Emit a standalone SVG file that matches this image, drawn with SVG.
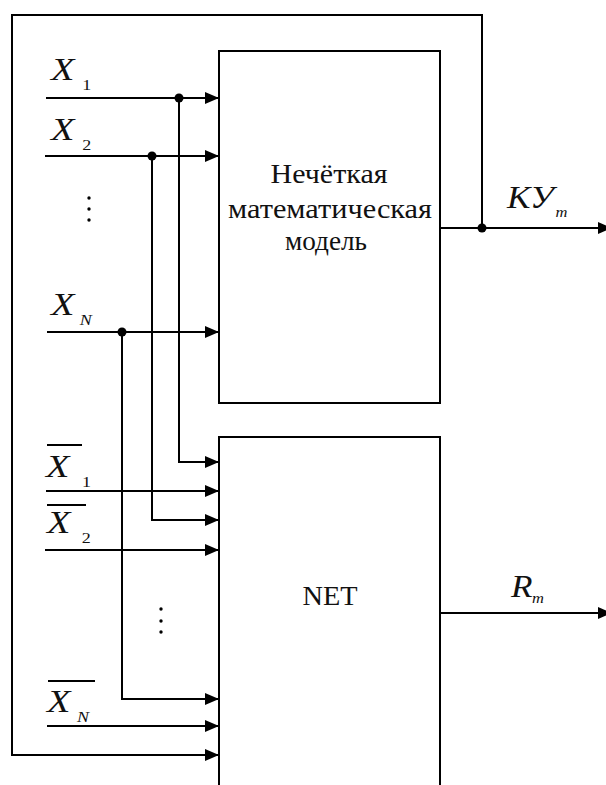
<svg xmlns="http://www.w3.org/2000/svg" width="606" height="785" viewBox="0 0 606 785">
  <style>
    .ln { stroke:#000; stroke-width:2; fill:none; }
    .box { stroke:#000; stroke-width:2; fill:#fff; }
    .bt { font-size:28px; fill:#111; text-anchor:middle; }
    .lbl { font-size:32px; font-style:italic; fill:#111; }
    .sub { font-size:15px; font-style:normal; }
    .subi { font-size:15px; font-style:italic; }
    .dot { fill:#000; }
  </style>
  <defs>
    <marker id="arr" markerWidth="14" markerHeight="12" refX="14" refY="6" orient="auto" markerUnits="userSpaceOnUse">
      <path d="M0,0 L14,6 L0,12 Z" fill="#000"/>
    </marker>
  </defs>
  <rect width="606" height="785" fill="#fff"/>

  <g id="fuzzy-model" font-family="Liberation Serif, DejaVu Serif, serif">
    <rect class="box" x="219" y="51" width="221" height="352"/>
    <text class="bt" x="329" y="183" textLength="117" lengthAdjust="spacingAndGlyphs">Нечёткая</text>
    <text class="bt" x="330" y="218" textLength="204" lengthAdjust="spacingAndGlyphs">математическая</text>
    <text class="bt" x="326" y="250" textLength="82" lengthAdjust="spacingAndGlyphs">модель</text>
  </g>

  <g id="net" font-family="Liberation Serif, DejaVu Serif, serif">
    <rect class="box" x="219" y="437" width="221" height="370"/>
    <text class="bt" x="330" y="605" textLength="55" lengthAdjust="spacingAndGlyphs">NET</text>
  </g>

  <g id="connectors">
    <polyline class="ln" points="482,228 482,15 12,15 12,755 219,755" marker-end="url(#arr)"/>
    <line class="ln" x1="46" y1="98" x2="219" y2="98" marker-end="url(#arr)"/>
    <line class="ln" x1="45" y1="156" x2="219" y2="156" marker-end="url(#arr)"/>
    <line class="ln" x1="47" y1="332" x2="219" y2="332" marker-end="url(#arr)"/>
    <polyline class="ln" points="179,98 179,462 219,462" marker-end="url(#arr)"/>
    <polyline class="ln" points="152,156 152,520 219,520" marker-end="url(#arr)"/>
    <polyline class="ln" points="122,332 122,699 219,699" marker-end="url(#arr)"/>
    <line class="ln" x1="46" y1="491" x2="219" y2="491" marker-end="url(#arr)"/>
    <line class="ln" x1="45" y1="550" x2="219" y2="550" marker-end="url(#arr)"/>
    <line class="ln" x1="47" y1="726" x2="219" y2="726" marker-end="url(#arr)"/>
    <line class="ln" x1="440" y1="228" x2="612" y2="228" marker-end="url(#arr)"/>
    <line class="ln" x1="440" y1="613" x2="612" y2="613" marker-end="url(#arr)"/>
    <circle class="dot" cx="179" cy="98" r="4.5"/>
    <circle class="dot" cx="152" cy="156" r="4.5"/>
    <circle class="dot" cx="122" cy="332" r="4.5"/>
    <circle class="dot" cx="482" cy="228" r="4.5"/>
  </g>

  <g id="labels" font-family="Liberation Serif, DejaVu Serif, serif">
    <text class="lbl" transform="matrix(1.2 0 0 1 51 80)" x="0" y="0">X<tspan class="sub" x="26" y="10">1</tspan></text>
    <text class="lbl" transform="matrix(1.2 0 0 1 51 140)" x="0" y="0">X<tspan class="sub" x="26" y="10">2</tspan></text>
    <text class="lbl" transform="matrix(1.2 0 0 1 51 315)" x="0" y="0">X<tspan class="subi" x="24" y="10">N</tspan></text>

    <line class="ln" x1="47" y1="445" x2="82" y2="445" stroke-width="1.5"/>
    <text class="lbl" transform="matrix(1.2 0 0 1 46 477)" x="0" y="0">X<tspan class="sub" x="30" y="10">1</tspan></text>
    <line class="ln" x1="47" y1="505" x2="86" y2="505" stroke-width="1.5"/>
    <text class="lbl" transform="matrix(1.2 0 0 1 47 533)" x="0" y="0">X<tspan class="sub" x="29" y="10">2</tspan></text>
    <line class="ln" x1="48" y1="681" x2="95" y2="681" stroke-width="1.5"/>
    <text class="lbl" transform="matrix(1.2 0 0 1 47 712)" x="0" y="0">X<tspan class="subi" x="25" y="10">N</tspan></text>

    <text class="lbl" transform="matrix(1.1 0 0 1 507 208)" x="0" y="0">КУ<tspan class="subi" x="44" y="9">m</tspan></text>
    <text class="lbl" transform="matrix(1.1 0 0 1 511 597)" x="0" y="0">R<tspan class="subi" x="19" y="6">m</tspan></text>

    <circle class="dot" cx="89" cy="198" r="1.7"/>
    <circle class="dot" cx="89" cy="209" r="1.7"/>
    <circle class="dot" cx="89" cy="220" r="1.7"/>
    <circle class="dot" cx="161" cy="609" r="1.7"/>
    <circle class="dot" cx="161" cy="621" r="1.7"/>
    <circle class="dot" cx="161" cy="632" r="1.7"/>
  </g>
</svg>
